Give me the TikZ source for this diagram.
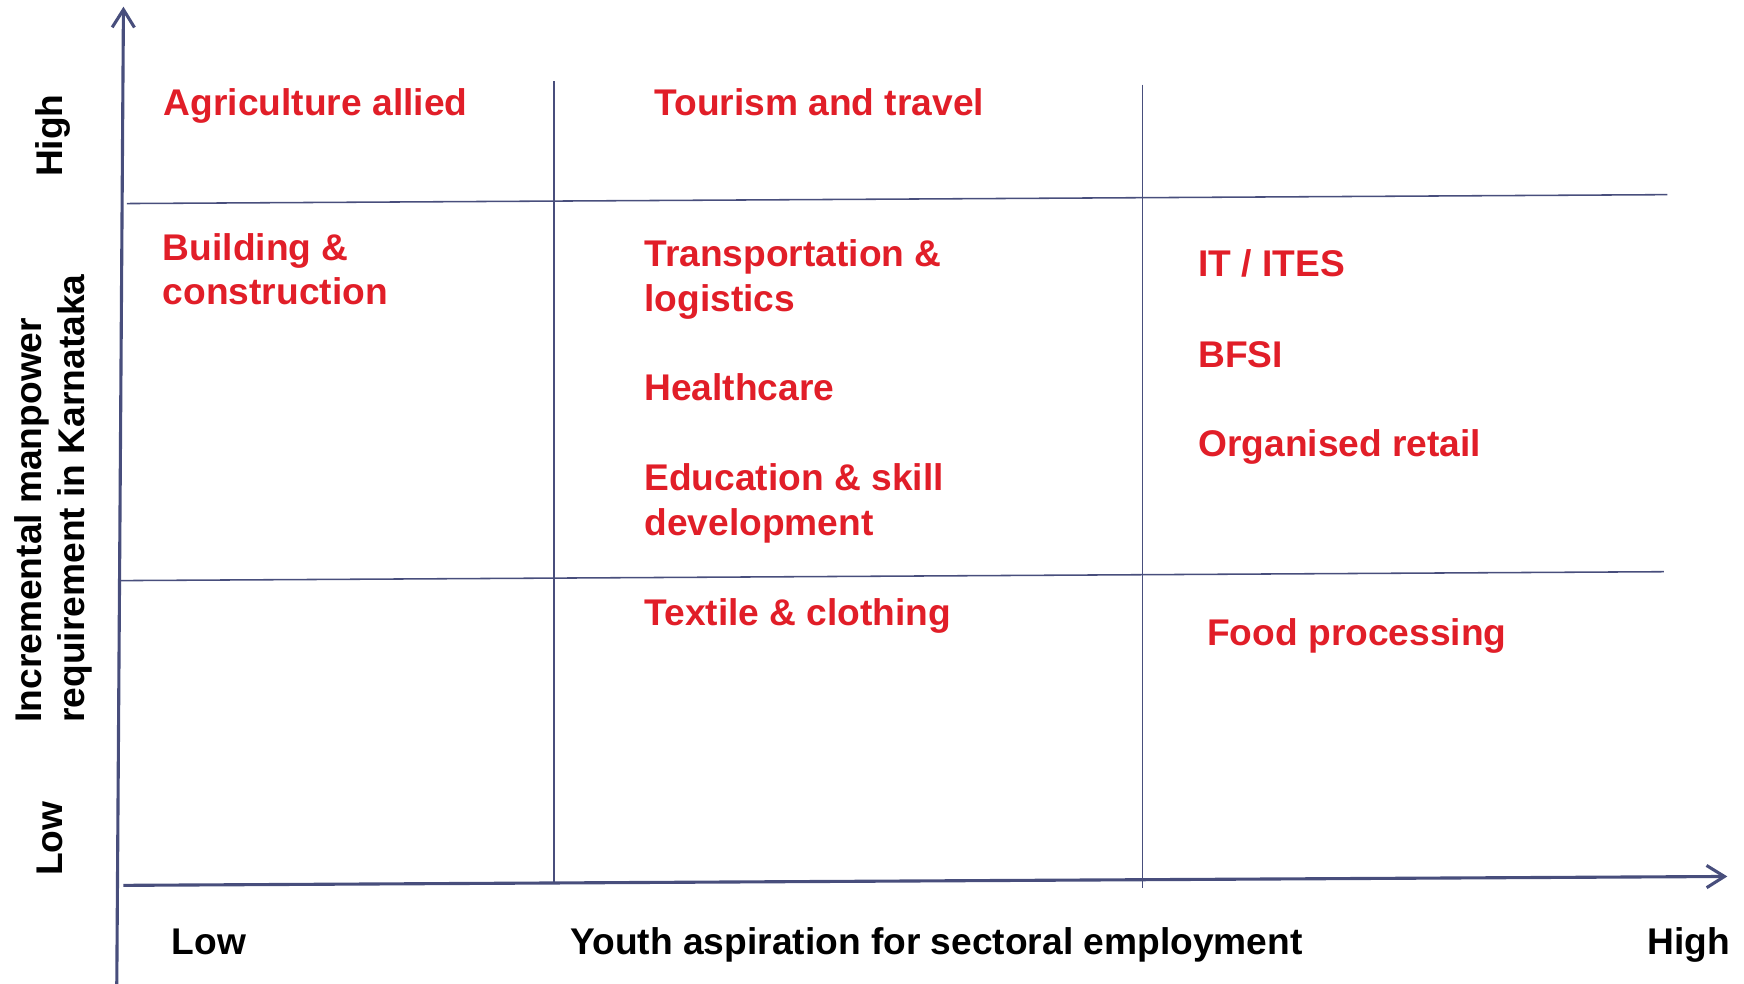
\documentclass[tikz,border=0pt]{standalone}
\usepackage{fontspec}
\setmainfont{Liberation Sans}
\usepackage{xcolor}
\usepackage{tikz}
\usetikzlibrary{arrows.meta, positioning}

\definecolor{sectorred}{RGB}{225,30,40}
\definecolor{axisblue}{RGB}{72,78,124}

\begin{document}
\begin{tikzpicture}[
  x=0.5pt, y=-0.5pt,
  >={Straight Barb[length=8pt, width=10pt]},
  axis/.style={draw=axisblue, line width=1.4pt},
  gridline/.style={draw=axisblue, line width=0.7pt},
  sector/.style={text=sectorred, font=\bfseries\fontsize{16.7}{20}\selectfont, align=left, anchor=base west, inner sep=0pt},
  scalelabel/.style={font=\bfseries\fontsize{16.7}{19}\selectfont, inner sep=0pt}
]
\useasboundingbox (0,0) rectangle (1568,884.5);

\coordinate (ybottom) at (105,885);
\coordinate (ytop) at (111,6);
\coordinate (xleft) at (111,796);
\coordinate (xright) at (1553,788);
\coordinate (hiwest) at (114,183);
\coordinate (hieast) at (1499,175);
\coordinate (lowest) at (108,522);
\coordinate (loeast) at (1496,514);
\coordinate (midtop) at (498,73);
\coordinate (midbottom) at (498,794);
\coordinate (righttop) at (1027,76);
\coordinate (rightbottom) at (1027,798);

\draw[gridline] (hiwest) -- (hieast);
\draw[gridline] (lowest) -- (loeast);
\draw[gridline] (midtop) -- (midbottom);
\draw[gridline] (righttop) -- (rightbottom);
\draw[axis, ->] (ybottom) -- (ytop);
\draw[axis, ->] (xleft) -- (xright);

\node[sector] (agri) at (147,104) {Agriculture allied};
\node[sector] (tourism) at (588,104) {Tourism and travel};
\node[sector] (building) at (146,274) {Building \&\\construction};
\node[sector] (transport) at (579,280) {Transportation \&\\logistics};
\node[sector] (health) at (579,360) {Healthcare};
\node[sector] (education) at (579,481) {Education \& skill\\development};
\node[sector] (textile) at (579,562) {Textile \& clothing};
\node[sector] (it) at (1077,249) {IT / ITES};
\node[sector] (bfsi) at (1077,330) {BFSI};
\node[sector] (retail) at (1077,410) {Organised retail};
\node[sector] (food) at (1085,580) {Food processing};

\node[scalelabel, anchor=base west] (xlow) at (154,858) {Low};
\node[scalelabel, anchor=base] (xtitle) at (842,858) {Youth aspiration for sectoral employment};
\node[scalelabel, anchor=base east] (xhigh) at (1556,858) {High};
\node[scalelabel, rotate=90, anchor=base] (yhigh) at (56,122) {High};
\node[scalelabel, rotate=90, anchor=base] (ylow) at (56,754) {Low};
\node[scalelabel, rotate=90, anchor=west, align=left] (ytitle) at (48,650) {Incremental manpower\\requirement in Karnataka};
\end{tikzpicture}
\end{document}
